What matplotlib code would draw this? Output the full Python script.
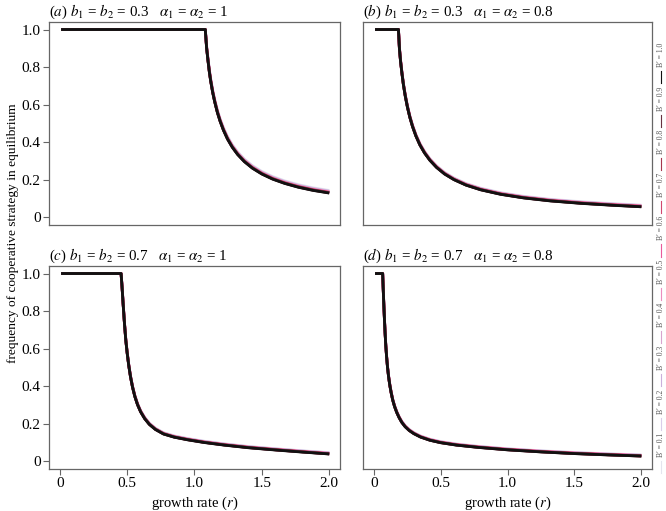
import matplotlib.pyplot as plt
from matplotlib.lines import Line2D

plt.rcParams['font.family'] = ['Liberation Serif', 'DejaVu Serif']
plt.rcParams['mathtext.fontset'] = 'stix'

# B' values and their line colours (light lavender -> pink -> black)
b_prime = [0.1, 0.2, 0.3, 0.4, 0.5, 0.6, 0.7, 0.8, 0.9, 1.0]
line_colors = ['#e4e4ee', '#dacdea', '#cab0dc', '#d8a4cf', '#ec8dbf',
               '#ea5a9c', '#d2486f', '#a6364e', '#683240', '#111111']

x_ticks = [0, 0.5, 1.0, 1.5, 2.0]
x_tick_labels = ['0', '0.5', '1.0', '1.5', '2.0']
y_ticks = [0, 0.2, 0.4, 0.6, 0.8, 1.0]
y_tick_labels = ['0', '0.2', '0.4', '0.6', '0.8', '1.0']

# (a) b1 = b2 = 0.3, alpha = 1   (rows: B' = 0.1 ... 1.0)
r_a = [0.01, 1.08, 1.09, 1.10, 1.11, 1.12, 1.135, 1.15, 1.17, 1.19, 1.215,
       1.245, 1.28, 1.32, 1.37, 1.43, 1.50, 1.58, 1.67, 1.77, 1.88, 2.0]
f_a = [
    [1, 1, 0.914, 0.849, 0.789, 0.740, 0.679, 0.629, 0.572, 0.526, 0.478, 0.431, 0.388, 0.349, 0.311, 0.276, 0.245, 0.218, 0.195, 0.175, 0.158, 0.144],
    [1, 1, 0.911, 0.846, 0.786, 0.737, 0.676, 0.626, 0.569, 0.523, 0.475, 0.428, 0.385, 0.346, 0.308, 0.273, 0.242, 0.215, 0.192, 0.172, 0.155, 0.141],
    [1, 1, 0.909, 0.844, 0.784, 0.735, 0.674, 0.624, 0.567, 0.521, 0.473, 0.426, 0.383, 0.344, 0.306, 0.271, 0.240, 0.213, 0.190, 0.170, 0.153, 0.139],
    [1, 1, 0.907, 0.842, 0.782, 0.733, 0.672, 0.622, 0.565, 0.519, 0.471, 0.424, 0.381, 0.342, 0.304, 0.269, 0.238, 0.211, 0.188, 0.168, 0.151, 0.137],
    [1, 1, 0.905, 0.840, 0.780, 0.731, 0.670, 0.620, 0.563, 0.517, 0.469, 0.422, 0.379, 0.340, 0.302, 0.267, 0.236, 0.209, 0.186, 0.166, 0.149, 0.135],
    [1, 1, 0.904, 0.839, 0.779, 0.730, 0.669, 0.619, 0.562, 0.516, 0.468, 0.421, 0.378, 0.339, 0.301, 0.266, 0.235, 0.208, 0.185, 0.165, 0.148, 0.134],
    [1, 1, 0.903, 0.838, 0.778, 0.729, 0.668, 0.618, 0.561, 0.515, 0.467, 0.420, 0.377, 0.338, 0.300, 0.265, 0.234, 0.207, 0.184, 0.164, 0.147, 0.133],
    [1, 1, 0.902, 0.837, 0.777, 0.728, 0.667, 0.617, 0.560, 0.514, 0.466, 0.419, 0.376, 0.337, 0.299, 0.264, 0.233, 0.206, 0.183, 0.163, 0.146, 0.132],
    [1, 1, 0.901, 0.836, 0.776, 0.727, 0.666, 0.616, 0.559, 0.513, 0.465, 0.418, 0.375, 0.336, 0.298, 0.263, 0.232, 0.205, 0.182, 0.162, 0.145, 0.131],
    [1, 1, 0.900, 0.835, 0.775, 0.726, 0.665, 0.615, 0.558, 0.512, 0.464, 0.417, 0.374, 0.335, 0.297, 0.262, 0.231, 0.204, 0.181, 0.161, 0.144, 0.130],
]

# (b) b1 = b2 = 0.3, alpha = 0.8
r_b = [0.01, 0.185, 0.192, 0.20, 0.21, 0.222, 0.236, 0.252, 0.27, 0.29, 0.315,
       0.345, 0.38, 0.42, 0.47, 0.53, 0.60, 0.69, 0.80, 0.95, 1.12, 1.32,
       1.55, 1.78, 2.0]
f_b = [
    [1, 1, 0.909, 0.844, 0.781, 0.715, 0.654, 0.596, 0.542, 0.493, 0.443, 0.395, 0.352, 0.313, 0.275, 0.240, 0.210, 0.181, 0.156, 0.132, 0.113, 0.097, 0.084, 0.074, 0.066],
    [1, 1, 0.907, 0.842, 0.779, 0.713, 0.652, 0.594, 0.540, 0.491, 0.441, 0.393, 0.350, 0.311, 0.273, 0.238, 0.208, 0.179, 0.154, 0.130, 0.111, 0.095, 0.082, 0.072, 0.064],
    [1, 1, 0.906, 0.841, 0.778, 0.712, 0.651, 0.593, 0.539, 0.490, 0.440, 0.392, 0.349, 0.310, 0.272, 0.237, 0.207, 0.178, 0.153, 0.129, 0.110, 0.094, 0.081, 0.071, 0.063],
    [1, 1, 0.905, 0.840, 0.777, 0.711, 0.650, 0.592, 0.538, 0.489, 0.439, 0.391, 0.348, 0.309, 0.271, 0.236, 0.206, 0.177, 0.152, 0.128, 0.109, 0.093, 0.080, 0.070, 0.062],
    [1, 1, 0.904, 0.839, 0.776, 0.710, 0.649, 0.591, 0.537, 0.488, 0.438, 0.390, 0.347, 0.308, 0.270, 0.235, 0.205, 0.176, 0.151, 0.127, 0.108, 0.092, 0.079, 0.069, 0.061],
    [1, 1, 0.903, 0.838, 0.775, 0.709, 0.648, 0.590, 0.536, 0.487, 0.437, 0.389, 0.346, 0.307, 0.269, 0.234, 0.204, 0.175, 0.150, 0.126, 0.107, 0.091, 0.078, 0.068, 0.060],
    [1, 1, 0.902, 0.837, 0.774, 0.708, 0.647, 0.589, 0.535, 0.486, 0.436, 0.388, 0.345, 0.306, 0.268, 0.233, 0.203, 0.174, 0.149, 0.125, 0.106, 0.090, 0.077, 0.067, 0.059],
    [1, 1, 0.901, 0.836, 0.773, 0.707, 0.646, 0.588, 0.534, 0.485, 0.435, 0.387, 0.344, 0.305, 0.267, 0.232, 0.202, 0.173, 0.148, 0.124, 0.105, 0.089, 0.076, 0.066, 0.058],
    [1, 1, 0.901, 0.836, 0.773, 0.707, 0.646, 0.588, 0.534, 0.485, 0.435, 0.387, 0.344, 0.305, 0.267, 0.232, 0.202, 0.173, 0.148, 0.124, 0.105, 0.089, 0.076, 0.066, 0.057],
    [1, 1, 0.900, 0.835, 0.772, 0.706, 0.645, 0.587, 0.533, 0.484, 0.434, 0.386, 0.343, 0.304, 0.266, 0.231, 0.201, 0.172, 0.147, 0.123, 0.104, 0.088, 0.075, 0.065, 0.057],
]

# (c) b1 = b2 = 0.7, alpha = 1
r_c = [0.01, 0.455, 0.462, 0.47, 0.48, 0.49, 0.50, 0.512, 0.525, 0.54, 0.557,
       0.577, 0.60, 0.63, 0.665, 0.71, 0.77, 0.85, 0.95, 1.07, 1.22, 1.40,
       1.60, 1.80, 2.0]
f_c = [
    [1, 1, 0.937, 0.847, 0.742, 0.652, 0.585, 0.517, 0.457, 0.402, 0.353, 0.309, 0.271, 0.235, 0.204, 0.177, 0.153, 0.136, 0.122, 0.108, 0.094, 0.080, 0.068, 0.057, 0.047],
    [1, 1, 0.936, 0.846, 0.741, 0.651, 0.584, 0.516, 0.456, 0.401, 0.352, 0.308, 0.270, 0.234, 0.203, 0.176, 0.152, 0.135, 0.121, 0.107, 0.093, 0.079, 0.067, 0.056, 0.046],
    [1, 1, 0.935, 0.845, 0.740, 0.650, 0.583, 0.515, 0.455, 0.400, 0.351, 0.307, 0.269, 0.233, 0.202, 0.175, 0.151, 0.134, 0.120, 0.106, 0.092, 0.078, 0.066, 0.055, 0.045],
    [1, 1, 0.934, 0.844, 0.739, 0.649, 0.582, 0.514, 0.454, 0.399, 0.350, 0.306, 0.268, 0.232, 0.201, 0.174, 0.150, 0.133, 0.119, 0.105, 0.091, 0.077, 0.065, 0.054, 0.044],
    [1, 1, 0.933, 0.843, 0.738, 0.648, 0.581, 0.513, 0.453, 0.398, 0.349, 0.305, 0.267, 0.231, 0.200, 0.173, 0.149, 0.132, 0.118, 0.104, 0.090, 0.076, 0.064, 0.053, 0.043],
    [1, 1, 0.932, 0.842, 0.737, 0.647, 0.580, 0.512, 0.452, 0.397, 0.348, 0.304, 0.266, 0.230, 0.199, 0.172, 0.148, 0.131, 0.117, 0.103, 0.089, 0.075, 0.063, 0.052, 0.042],
    [1, 1, 0.932, 0.842, 0.737, 0.647, 0.580, 0.512, 0.452, 0.397, 0.348, 0.304, 0.266, 0.230, 0.199, 0.172, 0.148, 0.131, 0.117, 0.103, 0.089, 0.075, 0.063, 0.052, 0.041],
    [1, 1, 0.931, 0.841, 0.736, 0.646, 0.579, 0.511, 0.451, 0.396, 0.347, 0.303, 0.265, 0.229, 0.198, 0.171, 0.147, 0.130, 0.116, 0.102, 0.088, 0.074, 0.062, 0.051, 0.041],
    [1, 1, 0.931, 0.841, 0.736, 0.646, 0.579, 0.511, 0.451, 0.396, 0.347, 0.303, 0.265, 0.229, 0.198, 0.171, 0.147, 0.130, 0.116, 0.102, 0.088, 0.074, 0.062, 0.051, 0.040],
    [1, 1, 0.930, 0.840, 0.735, 0.645, 0.578, 0.510, 0.450, 0.395, 0.346, 0.302, 0.264, 0.228, 0.197, 0.170, 0.146, 0.129, 0.115, 0.101, 0.087, 0.073, 0.061, 0.050, 0.040],
]

# (d) b1 = b2 = 0.7, alpha = 0.8
r_d = [0.01, 0.067, 0.071, 0.075, 0.08, 0.085, 0.09, 0.096, 0.103, 0.111, 0.12,
       0.13, 0.142, 0.156, 0.172, 0.19, 0.21, 0.235, 0.265, 0.30, 0.35, 0.42,
       0.50, 0.62, 0.78, 1.0, 1.25, 1.5, 1.75, 2.0]
f_d = [
    [1, 1, 0.926, 0.851, 0.766, 0.691, 0.626, 0.566, 0.509, 0.458, 0.413, 0.373, 0.333, 0.298, 0.267, 0.239, 0.214, 0.191, 0.171, 0.154, 0.136, 0.119, 0.106, 0.093, 0.081, 0.068, 0.057, 0.048, 0.041, 0.035],
    [1, 1, 0.925, 0.850, 0.765, 0.690, 0.625, 0.565, 0.508, 0.457, 0.412, 0.372, 0.332, 0.297, 0.266, 0.238, 0.213, 0.190, 0.170, 0.153, 0.135, 0.118, 0.105, 0.092, 0.080, 0.067, 0.056, 0.047, 0.040, 0.034],
    [1, 1, 0.924, 0.849, 0.764, 0.689, 0.624, 0.564, 0.507, 0.456, 0.411, 0.371, 0.331, 0.296, 0.265, 0.237, 0.212, 0.189, 0.169, 0.152, 0.134, 0.117, 0.104, 0.091, 0.079, 0.066, 0.055, 0.046, 0.039, 0.033],
    [1, 1, 0.923, 0.848, 0.763, 0.688, 0.623, 0.563, 0.506, 0.455, 0.410, 0.370, 0.330, 0.295, 0.264, 0.236, 0.211, 0.188, 0.168, 0.151, 0.133, 0.116, 0.103, 0.090, 0.078, 0.065, 0.054, 0.045, 0.038, 0.032],
    [1, 1, 0.923, 0.848, 0.763, 0.688, 0.623, 0.563, 0.506, 0.455, 0.410, 0.370, 0.330, 0.295, 0.264, 0.236, 0.211, 0.188, 0.168, 0.151, 0.133, 0.116, 0.103, 0.090, 0.078, 0.065, 0.054, 0.045, 0.038, 0.031],
    [1, 1, 0.922, 0.847, 0.762, 0.687, 0.622, 0.562, 0.505, 0.454, 0.409, 0.369, 0.329, 0.294, 0.263, 0.235, 0.210, 0.187, 0.167, 0.150, 0.132, 0.115, 0.102, 0.089, 0.077, 0.064, 0.053, 0.044, 0.037, 0.031],
    [1, 1, 0.921, 0.846, 0.761, 0.686, 0.621, 0.561, 0.504, 0.453, 0.408, 0.368, 0.328, 0.293, 0.262, 0.234, 0.209, 0.186, 0.166, 0.149, 0.131, 0.114, 0.101, 0.088, 0.076, 0.063, 0.052, 0.043, 0.036, 0.030],
    [1, 1, 0.921, 0.846, 0.761, 0.686, 0.621, 0.561, 0.504, 0.453, 0.408, 0.368, 0.328, 0.293, 0.262, 0.234, 0.209, 0.186, 0.166, 0.149, 0.131, 0.114, 0.101, 0.088, 0.076, 0.063, 0.052, 0.043, 0.036, 0.029],
    [1, 1, 0.920, 0.845, 0.760, 0.685, 0.620, 0.560, 0.503, 0.452, 0.407, 0.367, 0.327, 0.292, 0.261, 0.233, 0.208, 0.185, 0.165, 0.148, 0.130, 0.113, 0.100, 0.087, 0.075, 0.062, 0.051, 0.042, 0.035, 0.029],
    [1, 1, 0.920, 0.845, 0.760, 0.685, 0.620, 0.560, 0.503, 0.452, 0.407, 0.367, 0.327, 0.292, 0.261, 0.233, 0.208, 0.185, 0.165, 0.148, 0.130, 0.113, 0.100, 0.087, 0.075, 0.062, 0.051, 0.042, 0.035, 0.029],
]

titles = [
    "($\\mathit{a}$) $b_1$ = $b_2$ = 0.3\u2002 $\\alpha_1$ = $\\alpha_2$ = 1",
    "($\\mathit{b}$) $b_1$ = $b_2$ = 0.3\u2002 $\\alpha_1$ = $\\alpha_2$ = 0.8",
    "($\\mathit{c}$) $b_1$ = $b_2$ = 0.7\u2002 $\\alpha_1$ = $\\alpha_2$ = 1",
    "($\\mathit{d}$) $b_1$ = $b_2$ = 0.7\u2002 $\\alpha_1$ = $\\alpha_2$ = 0.8",
]
panel_r = [r_a, r_b, r_c, r_d]
panel_f = [f_a, f_b, f_c, f_d]

W, H = 666, 511
fig = plt.figure(figsize=(W / 100, H / 100), dpi=100)

# axes boxes in pixels: (left, top, right, bottom)
boxes = [(49, 22, 340, 225), (363, 22, 652, 225),
         (49, 266, 340, 469), (363, 266, 652, 469)]

spine_col = '#666666'
axes = []
for i, (l, t, rr, b) in enumerate(boxes):
    ax = fig.add_axes([l / W, 1 - b / H, (rr - l) / W, (b - t) / H])
    for ci, col in enumerate(line_colors):
        ax.plot(panel_r[i], panel_f[i][ci], color=col, lw=2.0,
                solid_joinstyle='round', solid_capstyle='butt')
    ax.set_xlim(-0.08, 2.08)
    ax.set_ylim(-0.04, 1.04)
    ax.set_xticks(x_ticks)
    ax.set_xticklabels(x_tick_labels)
    ax.set_yticks(y_ticks)
    ax.set_yticklabels(y_tick_labels)
    for s in ax.spines.values():
        s.set_color(spine_col)
        s.set_linewidth(0.9)
    ax.tick_params(direction='out', length=4, width=0.8, color=spine_col,
                   labelsize=11, pad=2)
    if i < 2:
        ax.tick_params(bottom=False, labelbottom=False)
    if i % 2 == 1:
        ax.tick_params(left=False, labelleft=False)
    ax.text(0.0, 1.048, titles[i], transform=ax.transAxes, ha='left',
            va='center', fontsize=10.8)
    axes.append(ax)

fig.text(13 / W, 0.543, 'frequency of cooperative strategy in equilibrium',
         rotation=90, ha='center', va='center', fontsize=9.6)
for ax in axes[2:]:
    pos = ax.get_position()
    fig.text((pos.x0 + pos.x1) / 2, 1 - 503 / H, r'growth rate ($r$)',
             ha='center', va='center', fontsize=10.5)

# vertical legend on the right edge, read from bottom to top
for i, (bp, col) in enumerate(zip(b_prime, line_colors)):
    y_txt = 457 - i * 43.3
    fig.add_artist(Line2D([661 / W, 661 / W],
                          [1 - (y_txt + 16) / H, 1 - (y_txt + 4) / H],
                          color=col, lw=0.8))
    fig.text(661 / W, 1 - y_txt / H, "B\u2032 = %.1f" % bp, rotation=90,
             ha='center', va='bottom', fontsize=5.5, color='#555555')

fig.savefig('out.png', dpi=100)
